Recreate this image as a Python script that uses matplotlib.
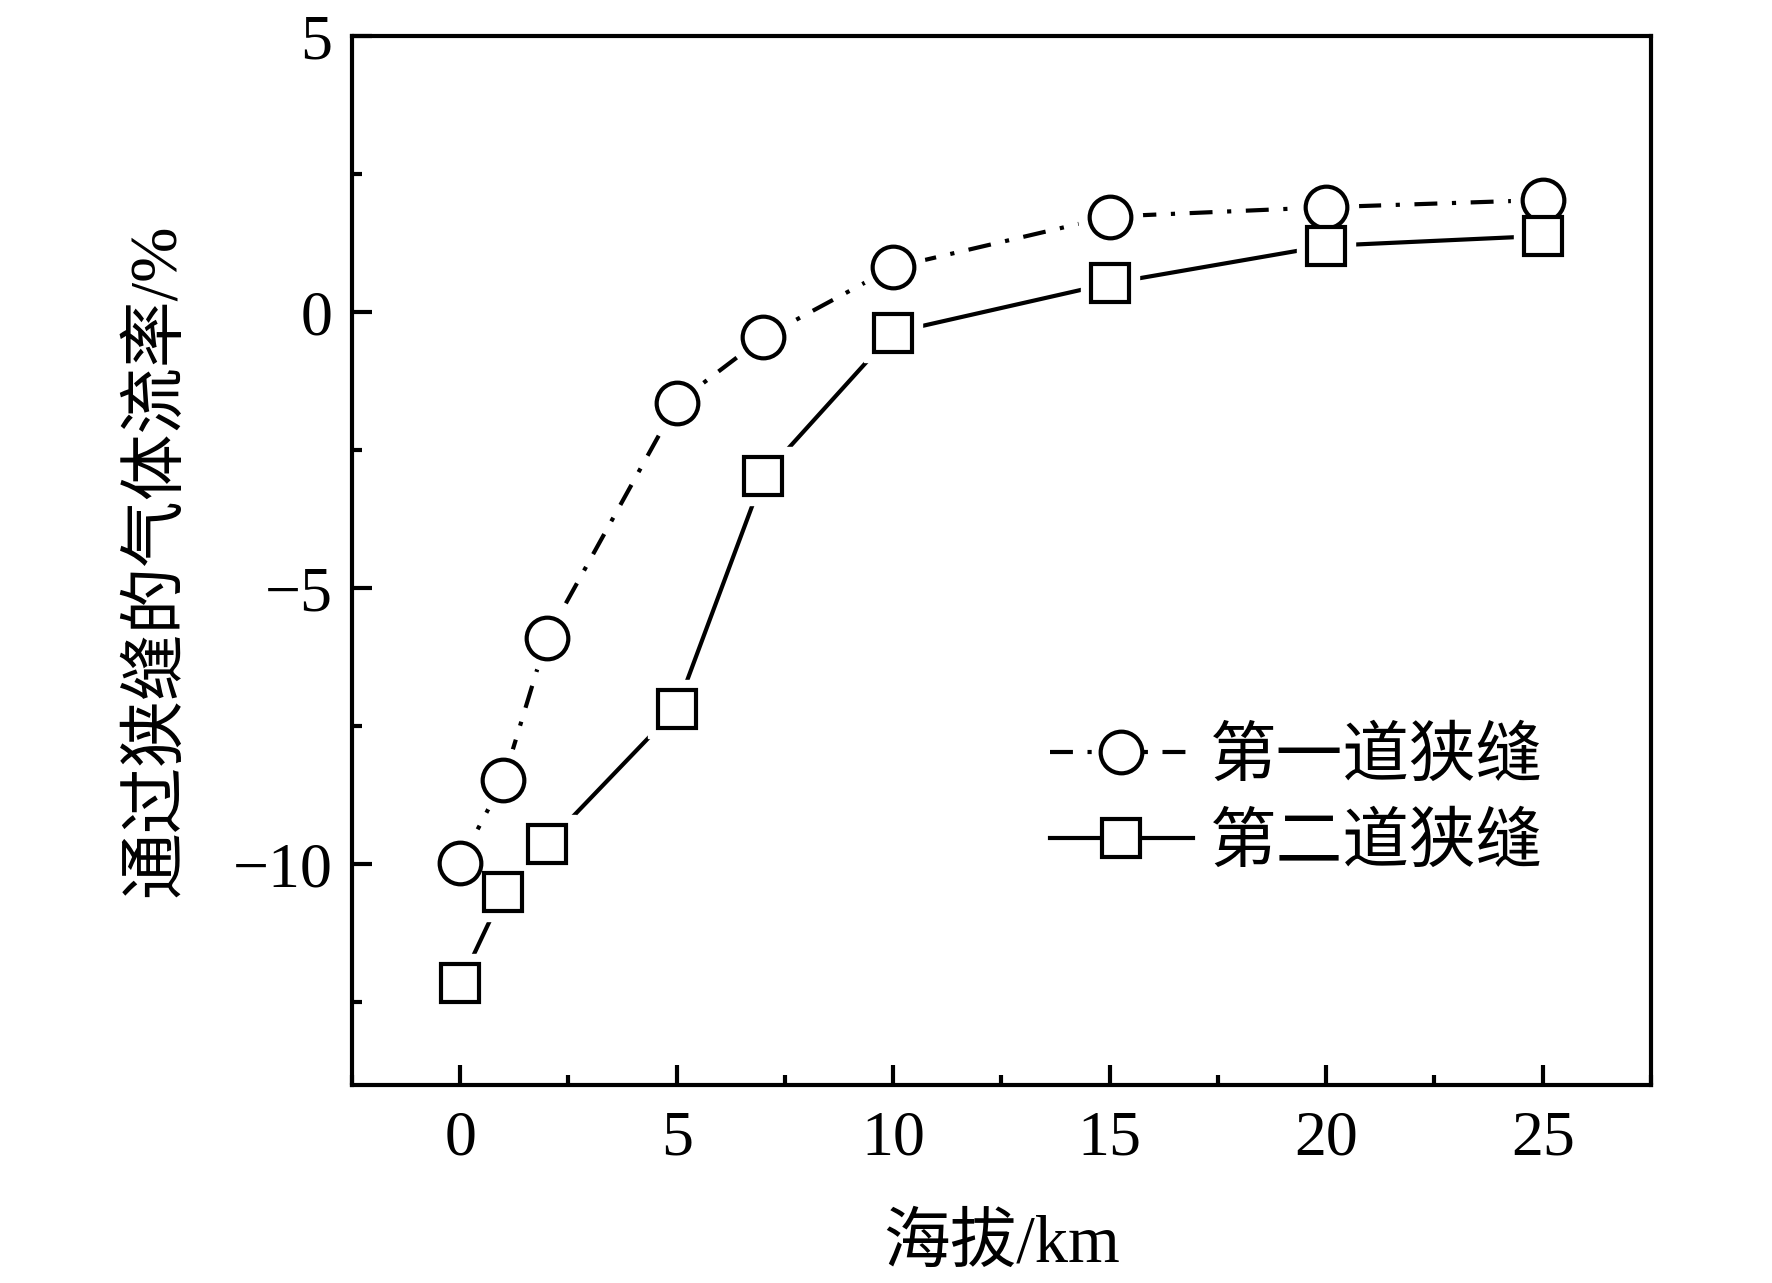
import matplotlib
matplotlib.use('Agg')

import matplotlib.pyplot as plt
from matplotlib.lines import Line2D
from matplotlib.ticker import MultipleLocator

# 字体：数字用 Times 风格，中文回退到 Noto Sans CJK
plt.rcParams['font.family'] = ['Liberation Serif', 'Noto Sans CJK SC']
plt.rcParams['axes.unicode_minus'] = True

# 数据
altitude = [0, 1, 2, 5, 7, 10, 15, 20, 25]
slit1 = [-9.97, -8.48, -5.90, -1.65, -0.46, 0.81, 1.73, 1.90, 2.03]
slit2 = [-12.16, -10.50, -9.63, -7.18, -2.97, -0.37, 0.52, 1.20, 1.38]
labels = ['第一道狭缝', '第二道狭缝']
xticks = [0, 5, 10, 15, 20, 25]
yticks = [-10, -5, 0, 5]

fig = plt.figure(figsize=(17.72, 12.83), dpi=100)
ax = fig.add_axes([0.1986, 0.1543, 0.7331, 0.8176])

lw = 3.0
dashdot = (5.5, 3.5, 1.0, 3.5)

# 连线
l1, = ax.plot(altitude, slit1, color='black', lw=lw, zorder=2)
l1.set_dashes(dashdot)
ax.plot(altitude, slit2, color='black', lw=lw, ls='-', zorder=2)

# 白色底，使连线在标记处留空
ax.plot(altitude, slit1, 'o', ms=46, mfc='white', mec='white', zorder=3)
ax.plot(altitude, slit2, 's', ms=42, mfc='white', mec='white', zorder=3)

# 空心标记
ax.plot(altitude, slit1, 'o', ms=30, mfc='white', mec='black', mew=lw, zorder=4)
ax.plot(altitude, slit2, 's', ms=27, mfc='white', mec='black', mew=lw, zorder=4)

# 坐标轴
ax.set_xlim(-2.5, 27.5)
ax.set_ylim(-14, 5)
ax.set_xticks(xticks)
ax.set_yticks(yticks)
ax.xaxis.set_minor_locator(MultipleLocator(2.5))
ax.yaxis.set_minor_locator(MultipleLocator(2.5))
ax.tick_params(which='both', direction='in', top=False, right=False, width=lw,
               labelsize=46)
ax.tick_params(which='major', length=14.5)
ax.tick_params(which='minor', length=7)
ax.tick_params(axis='x', pad=18)
ax.tick_params(axis='y', pad=14)
for sp in ax.spines.values():
    sp.set_linewidth(lw)

ax.set_xlabel('海拔/km', fontsize=48)
ax.set_ylabel('通过狭缝的气体流率/%', fontsize=48)
ax.xaxis.set_label_coords(0.5, -0.123)
ax.yaxis.set_label_coords(-0.126, 0.5)

# 图例
h1 = Line2D([], [], color='black', lw=lw, marker='o', ms=30, mfc='white',
            mec='black', mew=lw)
h1.set_dashes(dashdot)
h2 = Line2D([], [], color='black', lw=lw, ls='-', marker='s', ms=27,
            mfc='white', mec='black', mew=lw)
ax.legend([h1, h2], labels, loc='upper left', bbox_to_anchor=(0.537, 0.340),
          frameon=False, fontsize=48, handlelength=2.15, handletextpad=0.25,
          labelspacing=0.37, borderpad=0, borderaxespad=0, numpoints=1)

plt.savefig('out.png', dpi=100)
